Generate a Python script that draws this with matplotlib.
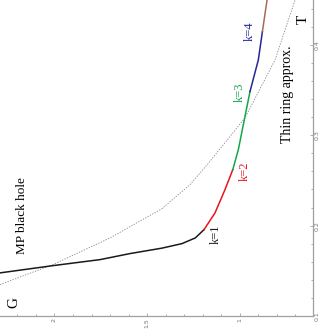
import matplotlib
matplotlib.use("Agg")
import matplotlib.pyplot as plt
from matplotlib.ticker import MultipleLocator

# Data (G, T)
mp_G = [2.294, 2.006, 1.754, 1.592, 1.420, 1.312, 1.240, 1.193]
mp_T = [0.1477, 0.1558, 0.1624, 0.1691, 0.1751, 0.1801, 0.1864, 0.1956]

k2_G = [1.193, 1.134, 1.107, 1.080, 1.038]
k2_T = [0.1956, 0.2140, 0.2269, 0.2398, 0.2619]

k3_G = [1.038, 1.008, 0.972, 0.945]
k3_T = [0.2619, 0.2840, 0.3208, 0.3484]

k4_G = [0.945, 0.900, 0.878]
k4_T = [0.3484, 0.3834, 0.4147]

k5_G = [0.878, 0.853]
k5_T = [0.4147, 0.4497]

ring_G = [2.294, 2.008, 1.700, 1.420, 1.269, 1.172, 1.080, 0.972, 0.810, 0.702]
ring_T = [0.1348, 0.1569, 0.1864, 0.2188, 0.2453, 0.2685, 0.2917, 0.3193, 0.3834, 0.4497]

fig = plt.figure(figsize=(3.24, 3.30), dpi=100)
ax = fig.add_axes([0.0, 14/330, 313/324, 316/330])

ax.plot(ring_G, ring_T, color="#888888", lw=0.6, ls=(0, (1.6, 1.6)))
ax.plot(mp_G, mp_T, color="#1a1a1a", lw=1.1)
ax.plot(k2_G, k2_T, color="#e8141c", lw=1.1)
ax.plot(k3_G, k3_T, color="#12a84a", lw=1.1)
ax.plot(k4_G, k4_T, color="#25259a", lw=1.1)
ax.plot(k5_G, k5_T, color="#a86a52", lw=1.1)

ax.set_xlim(2.294, 0.605)
ax.set_ylim(0.1, 0.4497)

for s in ["left", "top"]:
    ax.spines[s].set_visible(False)
for s in ["bottom", "right"]:
    ax.spines[s].set_color("#a0a0a0")
    ax.spines[s].set_linewidth(0.9)

ax.yaxis.tick_right()
ax.xaxis.set_minor_locator(MultipleLocator(0.1))
ax.yaxis.set_minor_locator(MultipleLocator(0.02))
ax.set_xticks([2, 1.5, 1])
ax.set_xticklabels(["2", "1.5", "1"])
ax.set_yticks([0.1, 0.2, 0.3, 0.4])
ax.set_yticklabels(["0.1", "0.2", "0.3", "0.4"])
ax.tick_params(which="both", direction="in", color="#a0a0a0", width=0.6,
               labelsize=4.5, labelcolor="#777777", pad=1.5)
ax.tick_params(which="major", length=2.4)
ax.tick_params(which="minor", length=1.4)
for lab in ax.get_xticklabels():
    lab.set_rotation(90)
for lab in ax.get_yticklabels():
    lab.set_rotation(90)
    lab.set_va("center")

serif = "Liberation Serif"
ax.text(2.173, 0.2110, "MP black hole", rotation=90, ha="center", va="center",
        fontsize=9.5, family=serif)
ax.text(0.745, 0.3459, "Thin ring approx.", rotation=90, ha="center", va="center",
        fontsize=10, family=serif)
ax.text(2.219, 0.1149, "G", rotation=90, ha="center", va="center", fontsize=11, family=serif)
ax.text(0.659, 0.4287, "T", rotation=90, ha="center", va="center", fontsize=11, family=serif)
ax.text(1.128, 0.1901, "k=1", rotation=90, ha="center", va="center", fontsize=9,
        family=serif, color="#1a1a1a")
ax.text(0.972, 0.2597, "k=2", rotation=90, ha="center", va="center", fontsize=9,
        family=serif, color="#e8141c")
ax.text(0.999, 0.3481, "k=3", rotation=90, ha="center", va="center", fontsize=9,
        family=serif, color="#12a84a")
ax.text(0.948, 0.4147, "k=4", rotation=90, ha="center", va="center", fontsize=9,
        family=serif, color="#25259a")

fig.savefig("out.png", dpi=100)
